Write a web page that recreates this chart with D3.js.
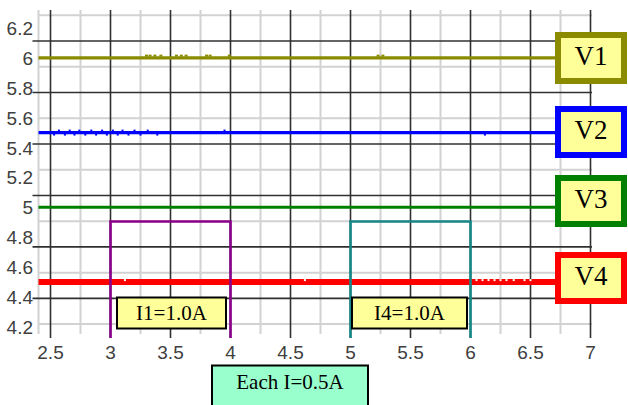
<!DOCTYPE html>
<html>
<head>
<meta charset="utf-8">
<script src="https://cdn.jsdelivr.net/npm/d3@7"></script>
<style>
  html, body { margin: 0; padding: 0; background: #fff; }
  svg { display: block; }
</style>
</head>
<body>
<svg id="chart" width="628" height="405"></svg>
<script>
// Supply rails over time (seconds), with two 1.0 A load pulses.
const traceTimes = [2.4, 7.0125];
const v1Values = [6.0, 6.0];
const v2Values = [5.5, 5.5];
const v3Values = [5.0, 5.0];
const v4Values = [4.5, 4.5];

// Small ripple spikes seen on the rails (time positions)
const v1Spikes = [3.3, 3.33, 3.37, 3.42, 3.55, 3.59, 3.63, 3.8, 3.83, 3.99, 5.23, 5.27];
const v2Spikes = [2.53, 2.57, 2.62, 2.66, 2.7, 2.74, 2.79, 2.84, 2.88, 2.93, 2.97, 3.02, 3.06, 3.1, 3.15, 3.2, 3.25, 3.31, 3.39, 3.95, 6.12];
const v4Gaps = [3.12, 4.62, 6.05, 6.1, 6.15, 6.2, 6.25, 6.3, 6.36, 6.45, 6.5];

const seriesNames = ["V1", "V2", "V3", "V4"];
const seriesValues = [v1Values, v2Values, v3Values, v4Values];

const pulseNames = ["I1=1.0A", "I4=1.0A"];
const pulseStarts = [3, 5];
const pulseEnds = [4, 6];
const pulseAmps = [1.0, 1.0];
const currentNote = "Each I=0.5A";

const xTicks = [2.5, 3, 3.5, 4, 4.5, 5, 5.5, 6, 6.5, 7];
const xTickLabels = ["2.5", "3", "3.5", "4", "4.5", "5", "5.5", "6", "6.5", "7"];
const xMinorGrid = [2.4, 2.75, 3.25, 3.75, 4.25, 4.75, 5.25, 5.75, 6.25, 6.75];
const yTicks = [6.2, 6, 5.8, 5.6, 5.4, 5.2, 5, 4.8, 4.6, 4.4, 4.2];
const yTickLabels = ["6.2", "6", "5.8", "5.6", "5.4", "5.2", "5", "4.8", "4.6", "4.4", "4.2"];

// ---- styling ----
const seriesStyle = [
  { color: "#8b8b00", width: 3.2, boxTop: 32 },
  { color: "#0000ff", width: 3.4, boxTop: 106 },
  { color: "#008000", width: 3,   boxTop: 175 },
  { color: "#ff0000", width: 6,   boxTop: 252 }
];
const pulseStyle = [
  { color: "#8b008b", labelX: 117, labelW: 109 },
  { color: "#168888", labelX: 352, labelW: 115 }
];

const svg = d3.select("#chart");
const plotLeft = 38.5, plotRight = 592, plotTop = 10, plotBottom = 338;

const x = d3.scaleLinear().domain([2.4, 7.0125]).range([plotLeft, plotRight]);
const y = d3.scaleLinear().domain([4.126, 6.32]).range([plotBottom, plotTop]);
// screen divisions of the instrument grid (12 half-divisions)
const div = d3.scaleLinear().domain([0, 12]).range([15.3, 324.1]);
// current traces: baseline at the bottom edge
const yI = d3.scaleLinear().domain([0, 1.0]).range([plotBottom, 221.5]);

svg.append("rect").attr("width", 628).attr("height", 405).attr("fill", "#fff");

const grid = svg.append("g");
// vertical minor grid
grid.selectAll("line.vminor")
  .data(xMinorGrid)
  .join("line")
  .attr("x1", d => x(d)).attr("x2", d => x(d))
  .attr("y1", plotTop).attr("y2", plotBottom - 4)
  .attr("stroke", "#d2d2d2").attr("stroke-width", 2);

// horizontal grid: odd divisions are major
const hLines = d3.range(0, 13);
grid.selectAll("line.h")
  .data(hLines)
  .join("line")
  .attr("x1", d => d % 2 === 1 ? plotLeft - 6 : plotLeft)
  .attr("x2", plotRight)
  .attr("y1", d => div(d)).attr("y2", d => div(d))
  .attr("stroke", d => d % 2 === 1 ? "#303030" : "#d2d2d2")
  .attr("stroke-width", d => d % 2 === 1 ? 1.6 : 2);

// vertical major grid at the tick positions
grid.selectAll("line.vmajor")
  .data(xTicks)
  .join("line")
  .attr("x1", d => x(d)).attr("x2", d => x(d))
  .attr("y1", plotTop).attr("y2", plotBottom)
  .attr("stroke", "#303030").attr("stroke-width", 1.6);

// axis labels
const tickFont = "'Liberation Sans', Arial, sans-serif";
svg.append("g").selectAll("text")
  .data(xTicks)
  .join("text")
  .attr("x", d => x(d))
  .attr("y", 359)
  .attr("text-anchor", "middle")
  .attr("font-family", tickFont)
  .attr("font-size", 19)
  .attr("fill", "#404040")
  .text((d, i) => xTickLabels[i]);

svg.append("g").selectAll("text")
  .data(yTicks)
  .join("text")
  .attr("x", 33)
  .attr("y", d => y(d) + 7)
  .attr("text-anchor", "end")
  .attr("font-family", tickFont)
  .attr("font-size", 19)
  .attr("fill", "#404040")
  .text((d, i) => yTickLabels[i]);

// supply traces
const line = d3.line().x(d => x(d[0])).y(d => y(d[1]));
const traces = svg.append("g");
seriesValues.forEach((vals, i) => {
  traces.append("path")
    .datum(traceTimes.map((t, j) => [t, vals[j]]))
    .attr("d", line)
    .attr("fill", "none")
    .attr("stroke", seriesStyle[i].color)
    .attr("stroke-width", seriesStyle[i].width);
});

// ripple spikes
traces.selectAll("rect.s1").data(v1Spikes).join("rect")
  .attr("x", d => x(d) - 1.5).attr("width", 3)
  .attr("y", y(v1Values[0]) - 3.2).attr("height", 2)
  .attr("fill", seriesStyle[0].color);
traces.selectAll("rect.s2").data(v2Spikes).join("rect")
  .attr("x", d => x(d) - 1).attr("width", 2)
  .attr("y", (d, i) => i % 2 ? y(v2Values[0]) - 3 : y(v2Values[0]) + 1)
  .attr("height", 2)
  .attr("fill", seriesStyle[1].color);
traces.selectAll("rect.s4").data(v4Gaps).join("rect")
  .attr("x", d => x(d) - 1).attr("width", 2)
  .attr("y", y(v4Values[0]) - 3).attr("height", 2)
  .attr("fill", "#ffffff");

// load current pulses
const pulses = svg.append("g");
pulseNames.forEach((name, i) => {
  const x0 = x(pulseStarts[i]), x1 = x(pulseEnds[i]);
  pulses.append("path")
    .attr("d", `M${x0},${yI(0)}V${yI(pulseAmps[i])}H${x1}V${yI(0)}`)
    .attr("fill", "none")
    .attr("stroke", pulseStyle[i].color)
    .attr("stroke-width", 2.6);
  pulses.append("rect")
    .attr("x", pulseStyle[i].labelX).attr("y", 297.5)
    .attr("width", pulseStyle[i].labelW).attr("height", 31)
    .attr("fill", "#ffff99").attr("stroke", "#000").attr("stroke-width", 2);
  pulses.append("text")
    .attr("x", pulseStyle[i].labelX + pulseStyle[i].labelW / 2)
    .attr("y", 320)
    .attr("text-anchor", "middle")
    .attr("font-family", "'Liberation Serif', 'Times New Roman', serif")
    .attr("font-size", 21)
    .attr("fill", "#000")
    .text(name);
});

// rail labels
const tags = svg.append("g");
seriesNames.forEach((name, i) => {
  const st = seriesStyle[i];
  tags.append("rect")
    .attr("x", 558).attr("y", st.boxTop + 3)
    .attr("width", 66).attr("height", 46)
    .attr("fill", "#ffff99").attr("stroke", st.color).attr("stroke-width", 6);
  tags.append("text")
    .attr("x", 591).attr("y", st.boxTop + 33)
    .attr("text-anchor", "middle")
    .attr("font-family", "'Liberation Serif', 'Times New Roman', serif")
    .attr("font-size", 27)
    .attr("fill", "#000")
    .text(name);
});

// current scale note
svg.append("rect")
  .attr("x", 212).attr("y", 365.5).attr("width", 156).attr("height", 45)
  .attr("fill", "#99ffcc").attr("stroke", "#000").attr("stroke-width", 2);
svg.append("text")
  .attr("x", 290).attr("y", 389)
  .attr("text-anchor", "middle")
  .attr("font-family", "'Liberation Serif', 'Times New Roman', serif")
  .attr("font-size", 21)
  .attr("fill", "#000")
  .text(currentNote);
</script>
</body>
</html>
